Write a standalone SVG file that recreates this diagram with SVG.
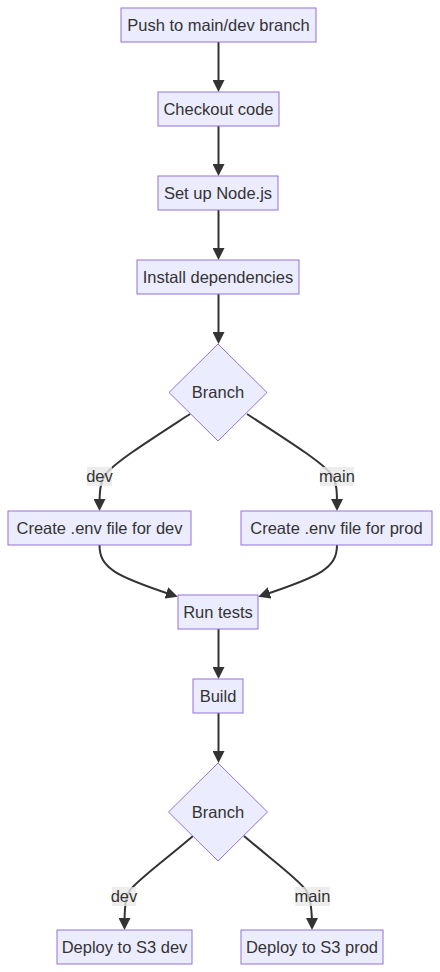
<svg xmlns="http://www.w3.org/2000/svg" width="440" height="972" viewBox="0 0 440 972">
<defs>
<marker id="arrow" viewBox="0 0 10 10" refX="6.7" refY="5" markerUnits="userSpaceOnUse" markerWidth="12" markerHeight="12" orient="auto">
<path d="M0,0 L10,5 L0,10 z" fill="#333333"/>
</marker>
<style>
.node rect, .node polygon { fill: #ECECFF; stroke: #9370DB; stroke-width: 1; }
.node text, .label text { font-family: "Liberation Sans", Arial, sans-serif; font-size: 16.5px; fill: #333333; text-anchor: middle; }
.edge { fill: none; stroke: #333333; stroke-width: 2; marker-end: url(#arrow); }
.label rect { fill: #e8e8e8; opacity: 0.8; }
</style>
</defs>
<rect width="440" height="972" fill="#ffffff"/>
<g id="connectors">
<path class="edge" d="M218.5,42 L218.5,88"/>
<path class="edge" d="M218.5,126 L218.5,172"/>
<path class="edge" d="M218.5,210 L218.5,256"/>
<path class="edge" d="M218.5,294 C218.5,310 218.5,325 218.5,340"/>
<path class="edge" d="M190,414 C150,440 115,462 105,475 C100,483 99.5,492 99.5,507"/>
<path class="edge" d="M247,414 C287,440 322,462 332,475 C337,483 337,492 337,507"/>
<path class="edge" d="M99.5,545 C99.5,568 115,576 174,595.5"/>
<path class="edge" d="M337,545 C337,568 321,576 262,595.5"/>
<path class="edge" d="M218.5,629 L218.5,675"/>
<path class="edge" d="M218.5,713 C218.5,730 218.5,745 218.5,759"/>
<path class="edge" d="M193,836 C165,860 140,878 130,890 C125,898 124.5,910 124.5,926"/>
<path class="edge" d="M244,836 C272,860 297,878 306,890 C311,898 312,910 312,926"/>
</g>
<g id="edge-labels">
<g class="label" id="label-dev-1"><rect x="87" y="467" width="25" height="19"/><text x="99.5" y="482">dev</text></g>
<g class="label" id="label-main-1"><rect x="320" y="467" width="34" height="19"/><text x="337" y="482">main</text></g>
<g class="label" id="label-dev-2"><rect x="112" y="887" width="24" height="19"/><text x="124" y="902">dev</text></g>
<g class="label" id="label-main-2"><rect x="295" y="887" width="35" height="19"/><text x="312.5" y="902">main</text></g>
</g>
<g class="node" id="push"><rect x="121" y="8" width="195" height="34"/><text x="218.5" y="30.5">Push to main/dev branch</text></g>
<g class="node" id="checkout"><rect x="158" y="92" width="121" height="34"/><text x="218.5" y="114.5">Checkout code</text></g>
<g class="node" id="setup-node"><rect x="158" y="176" width="120" height="34"/><text x="218" y="198.5">Set up Node.js</text></g>
<g class="node" id="install"><rect x="137" y="260" width="162" height="34"/><text x="218" y="282.5">Install dependencies</text></g>
<g class="node" id="branch1"><polygon points="218,344 267,392.5 218,441 169,392.5"/><text x="218" y="398">Branch</text></g>
<g class="node" id="env-dev"><rect x="8" y="511" width="183" height="34"/><text x="99.5" y="533.5">Create .env file for dev</text></g>
<g class="node" id="env-prod"><rect x="241" y="511" width="191" height="34"/><text x="336.5" y="533.5">Create .env file for prod</text></g>
<g class="node" id="run-tests"><rect x="178" y="595" width="80" height="34"/><text x="218" y="617.5">Run tests</text></g>
<g class="node" id="build"><rect x="193" y="679" width="50" height="34"/><text x="218" y="701.5">Build</text></g>
<g class="node" id="branch2"><polygon points="218,763 267.5,812 218,861 168.5,812"/><text x="218" y="817.5">Branch</text></g>
<g class="node" id="deploy-dev"><rect x="57" y="930" width="135" height="34"/><text x="124.5" y="952.5">Deploy to S3 dev</text></g>
<g class="node" id="deploy-prod"><rect x="241" y="930" width="142" height="34"/><text x="312" y="952.5">Deploy to S3 prod</text></g>
</svg>
